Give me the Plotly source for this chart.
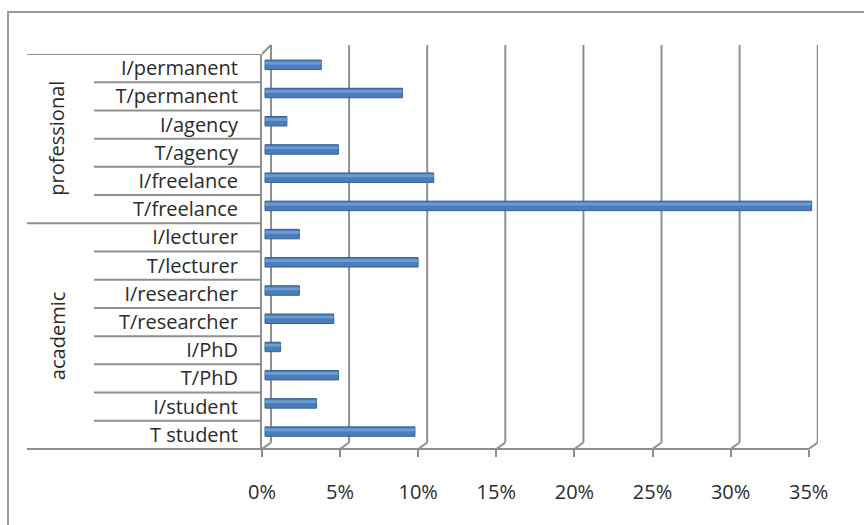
import plotly.graph_objects as go

# ---- data (top row first) ----
categories = [
    "I/permanent", "T/permanent", "I/agency", "T/agency", "I/freelance", "T/freelance",
    "I/lecturer", "T/lecturer", "I/researcher", "T/researcher", "I/PhD", "T/PhD",
    "I/student", "T student",
]
shares = [3.6, 8.8, 1.4, 4.7, 10.8, 35.0, 2.2, 9.8, 2.2, 4.4, 1.0, 4.7, 3.3, 9.6]
group_names = ["professional", "academic"]
group_first = [0, 6]
group_last = [5, 13]
tick_pcts = [0, 5, 10, 15, 20, 25, 30, 35]
tick_text = ["0%", "5%", "10%", "15%", "20%", "25%", "30%", "35%"]

# ---- geometry (pixels) ----
FIG_W, FIG_H = 864, 525
PLOT_L, PLOT_R, PLOT_T, PLOT_B = 262, 818, 54, 449
PX_PER_PCT = 15.62
BAR_ZERO_PX = 265          # bars sit a little behind the front plane
DEPTH_DX, DEPTH_DY = 9, 6.5  # front plane -> back wall offset
WALL_TOP = 45
TABLE_L, TABLE_INNER_L = 27, 94
GROUP_LABEL_X = 57

LINE = "#8f8f8f"
TEXT = "#2b2b2b"
FONT = "Open Sans"


def px_x(px):
    return (px - PLOT_L) / (PLOT_R - PLOT_L)


def px_y(py):
    return (PLOT_B - py) / (PLOT_B - PLOT_T)


x_min = (PLOT_L - BAR_ZERO_PX) / PX_PER_PCT
x_max = (PLOT_R - BAR_ZERO_PX) / PX_PER_PCT
x2_span = (PLOT_R - PLOT_L) / PX_PER_PCT

n = len(categories)
row_px = (PLOT_B - PLOT_T) / n
bar_h = 9.5 / row_px
bar_lift = 3.3 / row_px
bar_offset = -bar_lift - bar_h / 2

fig = go.Figure()

# cylinder-like bars: base body plus a lighter highlight band
fig.add_trace(go.Bar(
    x=shares, y=categories, orientation="h",
    width=bar_h, offset=bar_offset,
    marker=dict(color="#4a7ebb", line=dict(color="#36618f", width=1)),
    hovertemplate="%{y}: %{x:.1f}%<extra></extra>",
))
fig.add_trace(go.Bar(
    x=shares, y=categories, orientation="h",
    width=bar_h * 0.28, offset=bar_offset + bar_h * 0.18,
    marker=dict(color="#6f9bd2", line=dict(width=0)),
    hoverinfo="skip",
))
# carrier for the front-plane percentage axis
fig.add_trace(go.Scatter(x=[], y=[], xaxis="x2", showlegend=False, hoverinfo="skip"))

shapes = []
line_style = dict(color=LINE, width=2)

# back-wall gridlines with the floor diagonals to the front ticks
for v in tick_pcts:
    shapes.append(dict(type="line", layer="below", xref="x2", xsizemode="pixel", xanchor=v,
                       x0=DEPTH_DX, x1=DEPTH_DX, yref="paper",
                       y0=px_y(PLOT_B - DEPTH_DY), y1=px_y(WALL_TOP), line=line_style))
    shapes.append(dict(type="line", layer="below", xref="x2", xsizemode="pixel", xanchor=v,
                       x0=0, x1=DEPTH_DX, yref="paper",
                       y0=0, y1=px_y(PLOT_B - DEPTH_DY), line=line_style))

# top edge of the side wall
shapes.append(dict(type="line", layer="below", xref="x2", xsizemode="pixel", xanchor=0,
                   x0=0, x1=DEPTH_DX, yref="paper", y0=1, y1=px_y(WALL_TOP), line=line_style))

# front floor edge, running under the category table
shapes.append(dict(type="line", layer="below", xref="paper", yref="paper",
                   x0=px_x(TABLE_L), x1=max(tick_pcts) / x2_span, y0=0, y1=0, line=line_style))

# category table: row separators and group separators
shapes.append(dict(type="line", layer="below", xref="paper", yref="y",
                   x0=px_x(TABLE_L), x1=0, y0=-0.5, y1=-0.5, line=line_style))
for i in range(n - 1):
    left = TABLE_L if i in group_last else TABLE_INNER_L
    shapes.append(dict(type="line", layer="below", xref="paper", yref="y",
                       x0=px_x(left), x1=0, y0=i + 0.5, y1=i + 0.5, line=line_style))

# chart-area frame (right and bottom edges fall outside the page)
shapes.append(dict(type="rect", layer="below", xref="paper", yref="paper",
                   x0=px_x(8), x1=px_x(FIG_W + 20), y0=px_y(FIG_H + 20), y1=px_y(12),
                   line=dict(color="#9a9a9a", width=2)))

annotations = []
for name, a, b in zip(group_names, group_first, group_last):
    annotations.append(dict(text=name, xref="paper", yref="y", x=px_x(GROUP_LABEL_X),
                            y=(a + b) / 2, xanchor="center", yanchor="middle",
                            textangle=-90, showarrow=False,
                            font=dict(family=FONT, size=20, color=TEXT)))

fig.update_layout(
    width=FIG_W, height=FIG_H,
    margin=dict(l=PLOT_L, r=FIG_W - PLOT_R, t=PLOT_T, b=FIG_H - PLOT_B, pad=0),
    paper_bgcolor="white", plot_bgcolor="rgba(0,0,0,0)",
    showlegend=False, barmode="overlay",
    font=dict(family=FONT, size=20, color=TEXT),
    xaxis=dict(range=[x_min, x_max], showgrid=False, zeroline=False,
               showticklabels=False, ticks="", showline=False, fixedrange=True),
    xaxis2=dict(overlaying="x", anchor="y", side="bottom", range=[0, x2_span],
                tickvals=tick_pcts, ticktext=tick_text, ticks="outside", ticklen=7,
                tickwidth=2, tickcolor=LINE, showgrid=False, zeroline=False,
                showline=False, ticklabelstandoff=18,
                tickfont=dict(family=FONT, size=20, color=TEXT)),
    yaxis=dict(type="category", categoryorder="array", categoryarray=categories,
               range=[n - 0.5, -0.5], showgrid=False, zeroline=False,
               showline=True, linecolor=LINE, linewidth=2, ticks="",
               ticklabelstandoff=18, tickfont=dict(family=FONT, size=20, color=TEXT)),
    shapes=shapes,
    annotations=annotations,
)

fig.write_html("out.html")
